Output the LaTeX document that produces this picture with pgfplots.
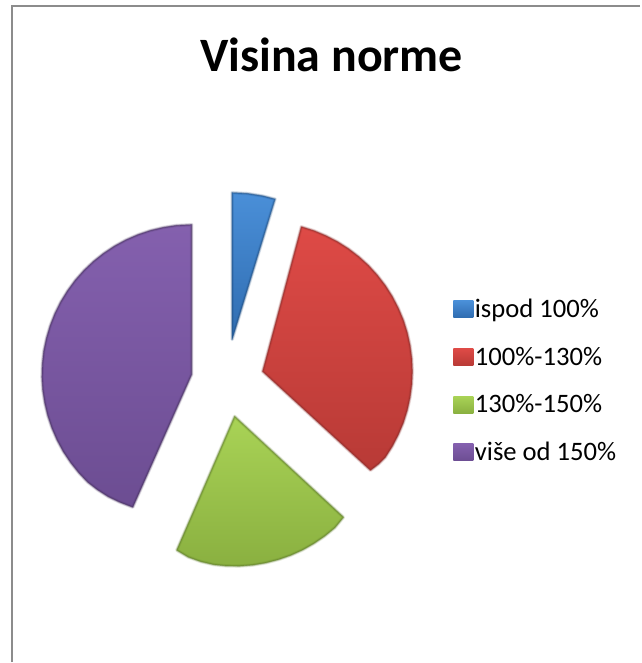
\documentclass[border=0pt]{standalone}
\usepackage{fontspec}
\setmainfont{Carlito}
\usepackage{pgfplots}
\pgfplotsset{compat=1.18}
\usepackage{pgfplotstable}

% slice outlines, in pixels of the reference
\pgfplotstableread{
x y
232.5 340
232.5 193
247.9 193.8
263.1 196.2
275.5 199.4
}\blue
\pgfplotstableread{
x y
263 372
301.8 227.1
314.3 231.0
326.4 236.1
338 242.1
349.0 249.1
359.4 257.1
369.1 265.9
377.9 275.6
385.9 286.0
392.9 297
398.9 308.6
404 320.7
407.9 333.2
410.7 346
412.4 358.9
413 372
412.4 385.1
410.7 398
407.9 410.8
404 423.3
398.9 435.4
392.9 447
385.9 458.0
379.5 464.5
371 471
}\red
\pgfplotstableread{
x y
235 417
344 518
335.4 528.5
325.3 536.8
314.5 544.2
303.1 550.7
291.2 556.1
278.9 560.4
266.2 563.7
253.3 565.9
240.2 566.9
227.2 566.8
214.1 565.5
201.2 562.5
188.7 558
177 551
}\green
\pgfplotstableread{
x y
192 375
133 508
120 503
108.5 497.5
97.6 490.5
87.8 482.9
78.8 473.4
70.7 463.2
63.4 452.3
57.2 440.8
52 428.8
47.8 416.3
44.8 403.6
42.8 390.7
42 377.6
42.4 364.5
43.8 351.5
46.5 338.7
50.2 326.2
55.0 314.0
60.8 302.3
67.7 291.1
75.4 280.6
84.1 270.8
93.6 261.8
103.8 253.7
114.8 246.4
126.2 240.2
138.2 235
150.7 230.8
163.4 227.8
176.3 225.8
192 225
}\purple

\definecolor{blueT}{HTML}{4A8FD8}
\definecolor{blueB}{HTML}{2F6CB0}
\definecolor{blueE}{HTML}{1F4E82}
\definecolor{redT}{HTML}{DE4A46}
\definecolor{redB}{HTML}{B83A36}
\definecolor{redE}{HTML}{8A2A28}
\definecolor{greenT}{HTML}{A9D356}
\definecolor{greenB}{HTML}{8AB040}
\definecolor{greenE}{HTML}{5E7C2A}
\definecolor{purpleT}{HTML}{8460AE}
\definecolor{purpleB}{HTML}{6C4D92}
\definecolor{purpleE}{HTML}{46305F}

\pgfplotsset{
  edgeA/.style={draw=#1, line width=2.6pt, draw opacity=0.14, line join=round, fill=none, forget plot},
  edgeB/.style={draw=#1, line width=1.6pt, draw opacity=0.25, line join=round, fill=none, forget plot},
  edgeC/.style={draw=#1, line width=0.7pt, draw opacity=0.45, line join=round, fill=none, forget plot},
}

\begin{document}
\begin{tikzpicture}
\begin{axis}[
  scale only axis,
  width=480.75pt, height=497.25pt,
  xmin=0, xmax=641, ymin=0, ymax=663,
  y dir=reverse,
  hide axis,
  clip=false,
  legend cell align=left,
  legend image code/.code={
    \path[#1] (0pt,-6.4pt) rectangle (15pt,6.4pt);
  },
  legend style={
    draw=none, fill=none,
    at={(454/641,1-298/663)}, anchor=north west,
    font=\fontsize{20}{22}\selectfont,
    row sep=18.2pt,
    inner sep=0pt, outer sep=0pt,
    nodes={inner sep=1.2pt},
  },
]
\path (axis cs:0,0) rectangle (axis cs:641,663);
% chart frame, cut off at right and bottom
\addplot[draw=black!45, line width=1.5pt, forget plot] coordinates {(12,663)(12,6)(641,6)};

\addplot[draw=none, shade, top color=blueT, bottom color=blueB] table {\blue} --cycle;
\addlegendentry{ispod 100\%}
\addplot[edgeA=blueE] table {\blue} --cycle;
\addplot[edgeB=blueE] table {\blue} --cycle;
\addplot[edgeC=blueE] table {\blue} --cycle;

\addplot[draw=none, shade, top color=redT, bottom color=redB] table {\red} --cycle;
\addlegendentry{100\%-130\%}
\addplot[edgeA=redE] table {\red} --cycle;
\addplot[edgeB=redE] table {\red} --cycle;
\addplot[edgeC=redE] table {\red} --cycle;

\addplot[draw=none, shade, top color=greenT, bottom color=greenB] table {\green} --cycle;
\addlegendentry{130\%-150\%}
\addplot[edgeA=greenE] table {\green} --cycle;
\addplot[edgeB=greenE] table {\green} --cycle;
\addplot[edgeC=greenE] table {\green} --cycle;

\addplot[draw=none, shade, top color=purpleT, bottom color=purpleB] table {\purple} --cycle;
\addlegendentry{više od 150\%}
\addplot[edgeA=purpleE] table {\purple} --cycle;
\addplot[edgeB=purpleE] table {\purple} --cycle;
\addplot[edgeC=purpleE] table {\purple} --cycle;

\node[font=\fontsize{36}{40}\selectfont\bfseries, anchor=base] at (axis cs:332,72) {Visina norme};
\end{axis}
\end{tikzpicture}
\end{document}
